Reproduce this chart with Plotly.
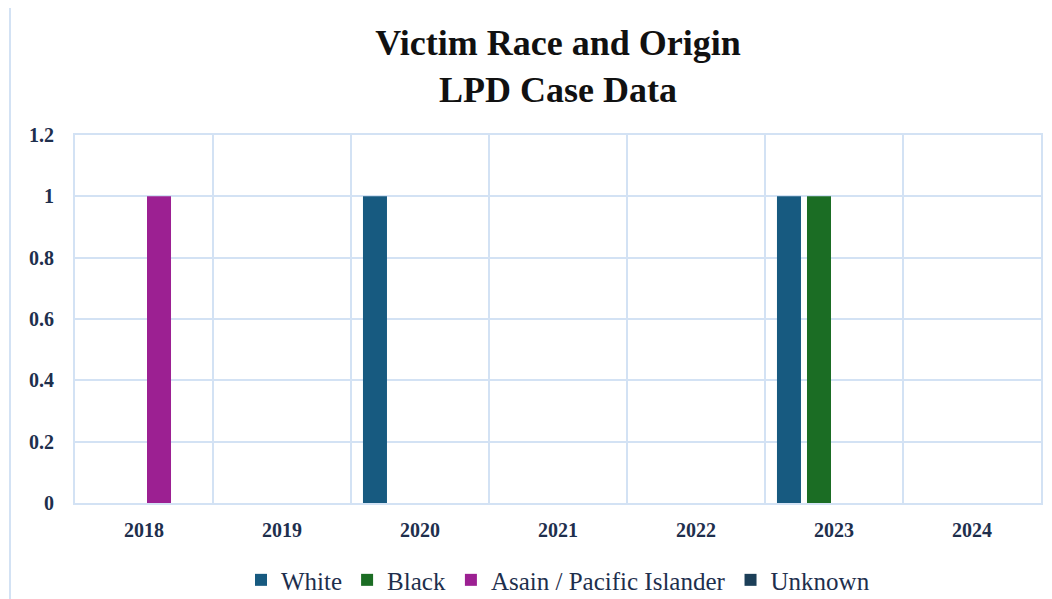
import plotly.graph_objects as go

years = ["2018", "2019", "2020", "2021", "2022", "2023", "2024"]
white = [0, 0, 1, 0, 0, 1, 0]
black = [0, 0, 0, 0, 0, 1, 0]
asian_pi = [1, 0, 0, 0, 0, 0, 0]
unknown = [0, 0, 0, 0, 0, 0, 0]

series = [
    ("White", white, "#175a80"),
    ("Black", black, "#1b6d24"),
    ("Asain / Pacific Islander", asian_pi, "#9c2092"),
    ("Unknown", unknown, "#1c3f58"),
]

fig = go.Figure()
for name, vals, col in series:
    fig.add_trace(go.Bar(
        x=years, y=vals, name=name,
        marker=dict(color=col, line=dict(width=0)),
    ))

grid = "#d3e2f4"
serif = "Liberation Serif, DejaVu Serif, serif"
tickfont = dict(family=serif, size=20, color="#1e2f4d", weight="bold")

fig.update_layout(
    width=1044, height=591,
    paper_bgcolor="white", plot_bgcolor="white",
    barmode="group", bargap=0.13, bargroupgap=0.2,
    margin=dict(l=67, r=11, t=127, b=96, autoexpand=False),
    title=dict(
        text="<b>Victim Race and Origin<br>LPD Case Data</b>",
        x=0.5, xanchor="center", xref="paper", yref="container", y=0.92, yanchor="middle",
        font=dict(family=serif, size=36, color="#111111"),
    ),
    xaxis=dict(
        type="category", tickson="boundaries", showgrid=True, gridcolor=grid, gridwidth=2,
        showline=True, linecolor=grid, linewidth=2, mirror=True,
        ticks="", tickfont=tickfont, ticklabelstandoff=8,
    ),
    yaxis=dict(
        range=[0, 1.2], tickvals=[0, 0.2, 0.4, 0.6, 0.8, 1, 1.2],
        ticktext=["0", "0.2", "0.4", "0.6", "0.8", "1", "1.2"],
        showgrid=True, gridcolor=grid, gridwidth=2, zeroline=False,
        showline=True, linecolor=grid, linewidth=2, mirror=True,
        ticks="", tickfont=tickfont, ticklabelstandoff=15,
    ),
    legend=dict(
        orientation="h", x=0.5, xanchor="center", y=-0.147, yanchor="top",
        font=dict(family=serif, size=25, color="#1e2f4d"),
        traceorder="normal",
    ),
    shapes=[dict(type="line", xref="paper", yref="paper", x0=-0.0673, x1=-0.0673, y0=-0.27, y1=1.4,
                 line=dict(color=grid, width=2))],
)

fig.write_html("out.html")
